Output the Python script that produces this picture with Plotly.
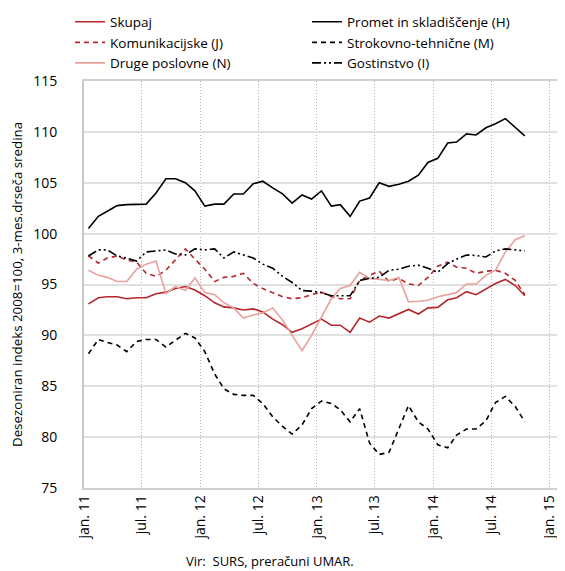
import plotly.graph_objects as go

# monthly points, jan 2011 - oct 2014 (placed mid month)
months = []
for y in range(2011, 2015):
    for m in range(1, 13):
        months.append('%d-%02d-15' % (y, m))
months = months[:46]

skupaj = [93.1, 93.7, 93.8, 93.8, 93.6, 93.7, 93.7, 94.1, 94.25, 94.6, 94.8, 94.45,
          93.9, 93.2, 92.8, 92.7, 92.5, 92.6, 92.3, 91.6, 91.05, 90.3, 90.65, 91.1,
          91.6, 91.0, 91.0, 90.3, 91.7, 91.3, 91.9, 91.7, 92.1, 92.55, 92.1, 92.7,
          92.75, 93.5, 93.7, 94.3, 94.0, 94.6, 95.1, 95.5, 94.9, 93.9]
promet = [100.5, 101.7, 102.2, 102.75, 102.85, 102.85, 102.9, 104.0, 105.4, 105.4, 105.0, 104.2,
          102.7, 102.9, 102.9, 103.9, 103.9, 104.9, 105.15, 104.5, 103.9, 103.0, 103.8, 103.4,
          104.2, 102.7, 102.85, 101.7, 103.2, 103.5, 105.0, 104.65, 104.85, 105.15, 105.75, 107.0,
          107.4, 108.9, 109.0, 109.8, 109.7, 110.4, 110.8, 111.3, 110.4, 109.6]
komunikacijske = [97.8, 97.1, 97.6, 97.8, 97.4, 97.2, 96.1, 95.8, 96.4, 97.4, 98.5, 97.5,
                  96.5, 95.3, 95.7, 95.8, 96.1, 95.1, 94.6, 94.2, 93.8, 93.6, 93.7, 94.0,
                  94.25, 93.8, 93.6, 93.6, 95.4, 95.9, 96.3, 95.3, 95.6, 95.05, 94.9, 95.7,
                  96.8, 97.2, 96.7, 96.6, 96.1, 96.3, 96.4, 96.1, 95.4, 94.0]
strokovno = [88.2, 89.6, 89.3, 89.05, 88.4, 89.4, 89.6, 89.6, 88.85, 89.5, 90.2, 89.75,
             88.4, 86.2, 84.75, 84.2, 84.1, 84.1, 83.3, 82.0, 81.05, 80.3, 81.2, 82.8,
             83.55, 83.3, 82.7, 81.5, 82.8, 79.4, 78.3, 78.5, 80.9, 83.1, 81.5, 80.8,
             79.25, 78.95, 80.2, 80.8, 80.8, 81.6, 83.4, 84.0, 83.0, 81.5]
druge = [96.4, 95.9, 95.7, 95.3, 95.3, 96.5, 97.0, 97.3, 94.1, 94.8, 94.4, 95.65,
         94.2, 94.0, 93.2, 92.7, 91.7, 92.0, 92.2, 92.7, 91.5, 90.0, 88.5, 90.0,
         91.8, 93.6, 94.6, 94.9, 96.2, 95.6, 95.5, 95.4, 95.7, 93.3, 93.35, 93.45,
         93.8, 94.0, 94.2, 95.05, 95.05, 95.9, 96.4, 98.2, 99.4, 99.8]
gostinstvo = [97.8, 98.4, 98.4, 97.8, 97.6, 97.3, 98.2, 98.3, 98.4, 98.0, 97.9, 98.5,
              98.4, 98.5, 97.6, 98.2, 97.9, 97.6, 97.0, 96.6, 95.8, 95.2, 94.4, 94.35,
              94.2, 93.9, 93.9, 93.9, 95.4, 95.6, 95.7, 96.4, 96.5, 96.8, 96.9, 96.6,
              96.2, 97.05, 97.5, 97.9, 97.85, 97.7, 98.3, 98.5, 98.4, 98.3]

tick_dates = ['2011-01-01', '2011-07-01', '2012-01-01', '2012-07-01', '2013-01-01',
              '2013-07-01', '2014-01-01', '2014-07-01', '2015-01-01']
tick_text = ['jan. 11', 'jul. 11', 'jan. 12', 'jul. 12', 'jan. 13',
             'jul. 13', 'jan. 14', 'jul. 14', 'jan. 15']

red = '#b5272d'
pink = '#e8a19c'

series = [
    ('Skupaj', skupaj, red, 'solid'),
    ('Promet in skladiščenje (H)', promet, 'black', 'solid'),
    ('Komunikacijske (J)', komunikacijske, red, '5px,4px'),
    ('Strokovno-tehnične (M)', strokovno, 'black', '5px,4px'),
    ('Druge poslovne (N)', druge, pink, 'solid'),
    ('Gostinstvo (I)', gostinstvo, 'black', '9px,3px,2px,3px,2px,3px'),
]

fig = go.Figure()
for name, vals, col, dash in series:
    fig.add_trace(go.Scatter(x=months, y=vals, name=name, mode='lines',
                             line=dict(color=col, width=1.6, dash=dash)))

# page body has an 8px margin, so the figure is a bit smaller than the window
fig.update_layout(
    width=557, height=563,
    font=dict(family='Open Sans', size=13, color='black'),
    paper_bgcolor='white', plot_bgcolor='white',
    margin=dict(l=76, r=8, t=73, b=83, autoexpand=False),
    legend=dict(orientation='h', x=-0.0296, y=1.183, xanchor='left', yanchor='top',
                entrywidth=192, entrywidthmode='pixels',
                font=dict(size=13.5), bgcolor='rgba(0,0,0,0)'),
    xaxis=dict(type='date', range=['2011-01-01', '2015-01-24'], automargin=False,
               tickvals=tick_dates, ticktext=tick_text, tickangle=-90,
               tickfont=dict(size=14),
               showgrid=True, gridcolor='#b4b4b4', griddash='1px,2px', gridwidth=1,
               showline=True, linecolor='#d0d0d0', linewidth=1.5, mirror=True,
               ticks='', zeroline=False),
    yaxis=dict(range=[75, 115], dtick=5, showgrid=True, gridcolor='#e0e0e0', gridwidth=1.5,
               showline=True, linecolor='#c8c8c8', linewidth=2, mirror=True, ticks='',
               zeroline=False, tickfont=dict(size=14), ticklabelstandoff=22, automargin=False,
               title=dict(text='Desezoniran indeks 2008=100, 3-mes.drseča sredina',
                          standoff=10, font=dict(size=13.3))),
    annotations=[dict(text='Vir:  SURS, preračuni UMAR.', x=0.393, y=-0.179, xref='paper',
                      yref='paper', xanchor='center', yanchor='middle', showarrow=False,
                      font=dict(size=13))],
)

fig.write_html('out.html')
